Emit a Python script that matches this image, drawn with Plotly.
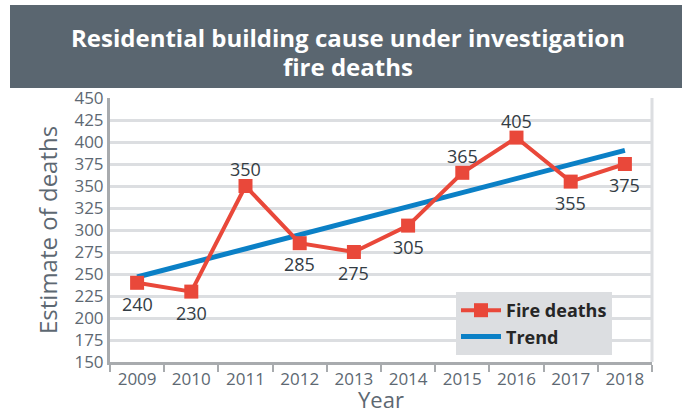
import plotly.graph_objects as go

years = ["2009", "2010", "2011", "2012", "2013", "2014", "2015", "2016", "2017", "2018"]
fire_deaths = [240, 230, 350, 285, 275, 305, 365, 405, 355, 375]
trend_years = ["2009", "2018"]
trend_values = [246.6, 390.4]
label_side = ["below", "below", "above", "below", "below",
              "below", "above", "above", "below", "below"]
y_ticks = list(range(150, 451, 25))

RED = "#e9483a"
BLUE = "#0b80c6"
GRAY_TXT = "#5d6872"
L, R, T, B = 110, 40, 98, 50
W, H = 692, 412
pw, ph = W - L - R, H - T - B

def px(x):
    return (x - L) / pw

def py(y):
    return (H - B - y) / ph

fig = go.Figure()
fig.add_trace(go.Scatter(
    x=trend_years, y=trend_values, mode="lines", name="Trend",
    line=dict(color=BLUE, width=5), cliponaxis=False))
fig.add_trace(go.Scatter(
    x=years, y=fire_deaths, mode="lines+markers", name="Fire deaths",
    line=dict(color=RED, width=4), marker=dict(symbol="square", size=14, color=RED),
    cliponaxis=False))

annotations = [
    dict(text="<b>Residential building cause under investigation</b>",
         xref="paper", yref="paper", x=px(348), y=py(38), xanchor="center", yanchor="middle",
         showarrow=False, font=dict(family="Open Sans", size=24, color="white")),
    dict(text="<b>fire deaths</b>",
         xref="paper", yref="paper", x=px(348), y=py(66), xanchor="center", yanchor="middle",
         showarrow=False, font=dict(family="Open Sans", size=24, color="white")),
    dict(text="Year", xref="paper", yref="paper", x=px(381), y=py(399),
         xanchor="center", yanchor="middle", showarrow=False,
         font=dict(family="Open Sans", size=22, color=GRAY_TXT)),
    dict(text="Estimate of deaths", xref="paper", yref="paper", x=px(47), y=py(230),
         xanchor="center", yanchor="middle", showarrow=False, textangle=-90,
         font=dict(family="Open Sans", size=24, color=GRAY_TXT)),
]
for i, (v, side) in enumerate(zip(fire_deaths, label_side)):
    annotations.append(dict(
        text=str(v), x=i, y=v, xref="x", yref="y", showarrow=False,
        xanchor="center", yanchor="middle", yshift=(-21 if side == "below" else 17),
        font=dict(family="Open Sans", size=18, color="#333c44")))

fig.update_layout(
    width=W, height=H, margin=dict(l=L, r=R, t=T, b=B, autoexpand=False),
    paper_bgcolor="white", plot_bgcolor="white",
    font=dict(family="Open Sans", color=GRAY_TXT),
    showlegend=True,
    legend=dict(x=px(456), y=py(292), xanchor="left", yanchor="top",
                bgcolor="#dcdee1", font=dict(family="Open Sans", size=18, color="#262626", weight="bold"),
                traceorder="reversed", borderwidth=0, itemwidth=40, tracegroupgap=0),
    shapes=[
        dict(type="rect", xref="paper", yref="paper", x0=px(10), x1=px(682), y0=py(88), y1=py(5),
             fillcolor="#5a6670", line=dict(width=0), layer="below"),
        dict(type="line", xref="paper", yref="paper", x0=1, x1=1, y0=0, y1=1,
             line=dict(color="#dcdee1", width=3)),
    ],
    annotations=annotations,
    xaxis=dict(
        type="category", categoryorder="array", categoryarray=years, range=[-0.5, 9.5],
        tickson="boundaries", ticks="outside", ticklen=7, tickwidth=2, tickcolor="#a8abae",
        showgrid=False, showline=True, linecolor="#a8abae", linewidth=3,
        tickfont=dict(size=17, color=GRAY_TXT), automargin=False,
    ),
    yaxis=dict(
        range=[150, 450], tickvals=y_ticks, ticktext=[str(v) for v in y_ticks],
        showgrid=True, gridcolor="#dcdee1", gridwidth=3,
        showline=True, linecolor="#a8abae", linewidth=3, zeroline=False,
        ticks="", tickfont=dict(size=17, color=GRAY_TXT), automargin=False,
    ),
)

fig.write_html("out.html", config={"displayModeBar": False})

with open("out.html", "r", encoding="utf-8") as f:
    html = f.read()
html = html.replace("<body>", '<body style="margin:0;padding:0;">', 1)
with open("out.html", "w", encoding="utf-8") as f:
    f.write(html)
